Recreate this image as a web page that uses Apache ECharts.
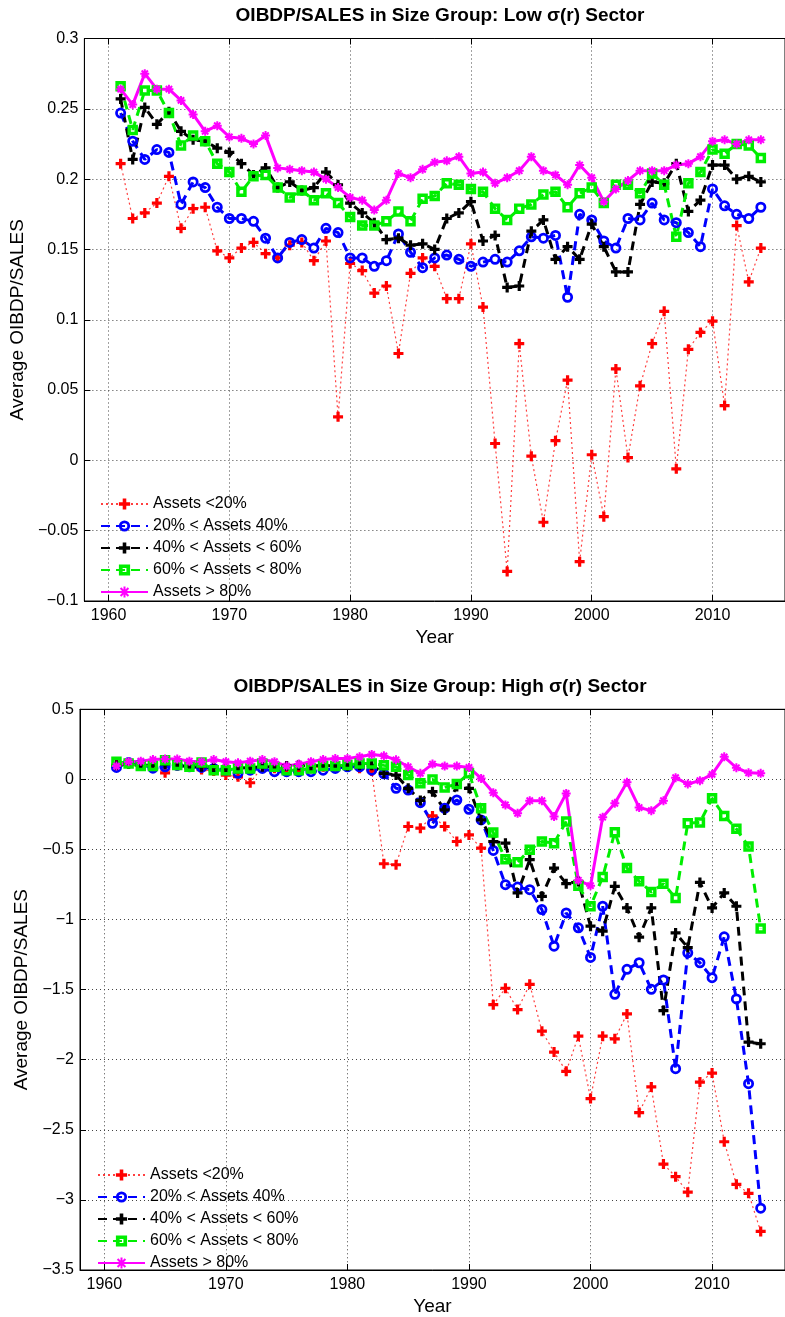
<!DOCTYPE html>
<html>
<head>
<meta charset="utf-8">
<script src="https://cdn.jsdelivr.net/npm/echarts@6/dist/echarts.min.js"></script>
<style>
html, body { margin: 0; padding: 0; background: #fff; }
#chart { width: 785px; height: 1317px; }
</style>
</head>
<body>
<div id="chart"></div>
<script>
var years = [1961, 1962, 1963, 1964, 1965, 1966, 1967, 1968, 1969, 1970,
	1971, 1972, 1973, 1974, 1975, 1976, 1977, 1978, 1979, 1980,
	1981, 1982, 1983, 1984, 1985, 1986, 1987, 1988, 1989, 1990,
	1991, 1992, 1993, 1994, 1995, 1996, 1997, 1998, 1999, 2000,
	2001, 2002, 2003, 2004, 2005, 2006, 2007, 2008, 2009, 2010,
	2011, 2012, 2013, 2014];

var xTicks = [1960, 1970, 1980, 1990, 2000, 2010];

var names = ['Assets <20%', '20% < Assets 40%', '40% < Assets < 60%', '60% < Assets < 80%', 'Assets > 80%'];

// low sigma(r) sector
var lowQ1 = [0.211, 0.172, 0.176, 0.183, 0.202, 0.165, 0.179, 0.180, 0.149, 0.144,
	0.151, 0.155, 0.147, 0.144, 0.153, 0.155, 0.142, 0.156, 0.031, 0.140,
	0.135, 0.119, 0.124, 0.076, 0.133, 0.144, 0.138, 0.115, 0.115, 0.154,
	0.109, 0.012, -0.079, 0.083, 0.003, -0.044, 0.014, 0.057, -0.072, 0.004,
	-0.040, 0.065, 0.002, 0.053, 0.083, 0.106, -0.006, 0.079, 0.091, 0.099,
	0.039, 0.167, 0.127, 0.151];
var lowQ2 = [0.247, 0.227, 0.214, 0.221, 0.219, 0.182, 0.198, 0.194, 0.180, 0.172,
	0.172, 0.170, 0.158, 0.144, 0.155, 0.157, 0.151, 0.165, 0.162, 0.144,
	0.144, 0.138, 0.142, 0.161, 0.148, 0.137, 0.144, 0.146, 0.143, 0.138,
	0.141, 0.143, 0.141, 0.149, 0.159, 0.158, 0.160, 0.116, 0.175, 0.171,
	0.156, 0.151, 0.172, 0.171, 0.183, 0.171, 0.169, 0.162, 0.152, 0.193,
	0.181, 0.175, 0.172, 0.180];
var lowQ3 = [0.257, 0.214, 0.251, 0.239, 0.248, 0.234, 0.228, 0.227, 0.222, 0.219,
	0.211, 0.203, 0.208, 0.194, 0.198, 0.192, 0.194, 0.205, 0.196, 0.183,
	0.176, 0.169, 0.157, 0.158, 0.153, 0.154, 0.150, 0.172, 0.176, 0.184,
	0.156, 0.160, 0.123, 0.124, 0.163, 0.171, 0.143, 0.152, 0.143, 0.168,
	0.152, 0.134, 0.134, 0.182, 0.198, 0.197, 0.211, 0.177, 0.185, 0.210,
	0.210, 0.200, 0.202, 0.198];
var lowQ4 = [0.266, 0.235, 0.263, 0.263, 0.247, 0.224, 0.231, 0.227, 0.211, 0.205,
	0.191, 0.202, 0.203, 0.194, 0.187, 0.192, 0.185, 0.190, 0.183, 0.173,
	0.167, 0.167, 0.170, 0.177, 0.170, 0.186, 0.188, 0.197, 0.196, 0.193,
	0.191, 0.179, 0.171, 0.179, 0.182, 0.189, 0.191, 0.180, 0.190, 0.194,
	0.183, 0.196, 0.196, 0.190, 0.204, 0.196, 0.159, 0.197, 0.205, 0.221,
	0.218, 0.225, 0.224, 0.215];
var lowQ5 = [0.264, 0.253, 0.275, 0.264, 0.264, 0.256, 0.246, 0.234, 0.238, 0.230,
	0.229, 0.225, 0.231, 0.208, 0.207, 0.206, 0.205, 0.200, 0.194, 0.187,
	0.185, 0.178, 0.185, 0.204, 0.201, 0.207, 0.212, 0.213, 0.216, 0.204,
	0.205, 0.197, 0.201, 0.206, 0.216, 0.206, 0.203, 0.196, 0.210, 0.201,
	0.184, 0.193, 0.199, 0.206, 0.206, 0.206, 0.210, 0.211, 0.216, 0.227,
	0.228, 0.225, 0.228, 0.228];

// high sigma(r) sector
var highQ1 = [0.100, 0.110, 0.100, 0.100, 0.047, 0.100, 0.090, 0.070, 0.060, 0.031,
	0.019, -0.024, 0.090, 0.080, 0.070, 0.070, 0.080, 0.090, 0.090, 0.090,
	0.080, 0.060, -0.602, -0.609, -0.336, -0.348, -0.261, -0.336, -0.443, -0.396,
	-0.490, -1.607, -1.490, -1.642, -1.462, -1.796, -1.945, -2.083, -1.832, -2.277,
	-1.832, -1.851, -1.673, -2.377, -2.194, -2.744, -2.834, -2.945, -2.159, -2.095,
	-2.585, -2.889, -2.953, -3.225];
var highQ2 = [0.085, 0.120, 0.110, 0.080, 0.090, 0.100, 0.090, 0.085, 0.078, 0.066,
	0.043, 0.066, 0.078, 0.055, 0.055, 0.055, 0.055, 0.066, 0.078, 0.090,
	0.090, 0.066, 0.040, -0.064, -0.076, -0.166, -0.313, -0.206, -0.147, -0.213,
	-0.289, -0.507, -0.751, -0.768, -0.787, -0.929, -1.190, -0.953, -1.059, -1.270,
	-0.905, -1.533, -1.355, -1.308, -1.498, -1.431, -2.064, -1.237, -1.308, -1.415,
	-1.123, -1.566, -2.171, -3.059];
var highQ3 = [0.100, 0.110, 0.100, 0.100, 0.110, 0.100, 0.090, 0.090, 0.085, 0.078,
	0.080, 0.085, 0.090, 0.090, 0.095, 0.100, 0.095, 0.100, 0.095, 0.095,
	0.100, 0.100, 0.043, 0.031, -0.064, -0.150, -0.088, -0.218, -0.050, -0.064,
	-0.289, -0.443, -0.455, -0.810, -0.573, -0.834, -0.633, -0.744, -0.728, -1.047,
	-1.083, -0.763, -0.917, -1.126, -0.917, -1.649, -1.095, -1.200, -0.735, -0.917,
	-0.810, -0.905, -1.874, -1.886];
var highQ4 = [0.126, 0.114, 0.095, 0.095, 0.137, 0.102, 0.090, 0.121, 0.066, 0.066,
	0.078, 0.078, 0.114, 0.090, 0.066, 0.066, 0.078, 0.095, 0.095, 0.102,
	0.114, 0.114, 0.100, 0.090, 0.031, -0.028, 0.000, -0.057, -0.033, 0.043,
	-0.206, -0.379, -0.569, -0.592, -0.502, -0.443, -0.455, -0.300, -0.758, -0.905,
	-0.697, -0.377, -0.633, -0.727, -0.803, -0.744, -0.846, -0.313, -0.308, -0.135,
	-0.261, -0.353, -0.479, -1.064];
var highQ5 = [0.095, 0.126, 0.130, 0.142, 0.145, 0.145, 0.130, 0.126, 0.142, 0.126,
	0.118, 0.130, 0.142, 0.126, 0.095, 0.109, 0.126, 0.142, 0.149, 0.149,
	0.161, 0.178, 0.168, 0.140, 0.090, 0.043, 0.109, 0.095, 0.095, 0.085,
	0.007, -0.095, -0.182, -0.242, -0.152, -0.152, -0.265, -0.100, -0.720, -0.758,
	-0.270, -0.171, -0.021, -0.201, -0.223, -0.152, 0.012, -0.033, -0.009, 0.036,
	0.161, 0.083, 0.047, 0.043];

var FONT = '"Liberation Sans", Arial, Helvetica, sans-serif';
var PLUS = 'path://M3.4,0H6.6V3.4H10V6.6H6.6V10H3.4V6.6H0V3.4H3.4Z';
var STAR = 'path://M5,0L5,10M0,5L10,5M1.5,1.5L8.5,8.5M8.5,1.5L1.5,8.5';
// rings: outer shape clockwise, inner hole counter-clockwise
var RING = 'path://M5,0A5,5,0,1,1,5,10A5,5,0,1,1,5,0Z M5,2.5A2.5,2.5,0,1,0,5,7.5A2.5,2.5,0,1,0,5,2.5Z';
var BOX = 'path://M0,0H10V10H0Z M3.3,3.3V6.7H6.7V3.3Z';

var styles = [
	{ color: '#ff0000', line: { width: 1.2, type: [2, 3], opacity: 0.75 }, symbol: PLUS, size: 10, border: 0 },
	{ color: '#0000ff', line: { width: 3, type: [9, 6] }, symbol: RING, size: 11, border: 0 },
	{ color: '#000000', line: { width: 3, type: [9, 6] }, symbol: PLUS, size: 10, border: 0 },
	{ color: '#00ee00', line: { width: 3, type: [9, 6] }, symbol: BOX, size: 10.5, border: 0 },
	{ color: '#ff00ff', line: { width: 3, type: 'solid' }, symbol: STAR, size: 9, border: 2 }
];

function pairs(vals) {
	return years.map(function(y, i) { return [y, vals[i]]; });
}

function makeSeries(idx, sets) {
	return sets.map(function(vals, k) {
		var s = styles[k];
		return {
			name: names[k],
			type: 'line',
			xAxisIndex: idx * 2,
			yAxisIndex: idx,
			data: pairs(vals),
			symbol: s.symbol,
			symbolSize: s.size,
			showSymbol: true,
			animation: false,
			lineStyle: { color: s.color, width: s.line.width, type: s.line.type, opacity: s.line.opacity || 1 },
			itemStyle: { color: s.color, borderColor: s.color, borderWidth: s.border },
			emphasis: { disabled: true }
		};
	});
}

function yFmt(v) {
	var s = String(Math.round(v * 100) / 100);
	return s.replace('-', '\u2212');
}

function xAxisPair(gridIdx) {
	var line = { show: true, onZero: false, lineStyle: { color: '#000', width: 1 } };
	var tick = { show: true, inside: true, length: 6, customValues: xTicks, lineStyle: { color: '#000' } };
	var bottom = {
		type: 'value', gridIndex: gridIdx, min: 1958, max: 2016, position: 'bottom',
		name: 'Year', nameLocation: 'middle', nameGap: 27,
		nameTextStyle: { fontSize: 19, color: '#000', fontFamily: FONT },
		axisLine: line, axisTick: tick,
		axisLabel: {
			customValues: xTicks, fontSize: 16, color: '#000', fontFamily: FONT, margin: 7,
			formatter: function(v) { return String(v); }
		},
		splitLine: { show: true, lineStyle: { color: '#444', type: [1, 3], width: 1 } }
	};
	var top = {
		type: 'value', gridIndex: gridIdx, min: 1958, max: 2016, position: 'top',
		axisLine: line, axisTick: tick,
		axisLabel: { show: false },
		splitLine: { show: false }
	};
	return [bottom, top];
}

function yAxis(gridIdx, min, max, step, gap) {
	return {
		type: 'value', gridIndex: gridIdx, min: min, max: max, interval: step,
		name: 'Average OIBDP/SALES', nameLocation: 'middle', nameGap: gap,
		nameTextStyle: { fontSize: 19, color: '#000', fontFamily: FONT },
		axisLine: { show: true, onZero: false, lineStyle: { color: '#000', width: 1 } },
		axisTick: { show: true, inside: true, length: 6, lineStyle: { color: '#000' } },
		axisLabel: { formatter: yFmt, fontSize: 16, color: '#000', fontFamily: FONT, margin: 6 },
		splitLine: { show: true, lineStyle: { color: '#444', type: [1, 3], width: 1 } }
	};
}

function legend(top, left) {
	return {
		data: names, orient: 'vertical', top: top, left: left, padding: 0,
		itemWidth: 47, itemHeight: 14, itemGap: 6,
		selectedMode: false,
		textStyle: { fontSize: 16, color: '#000', fontFamily: FONT }
	};
}

function title(text, top) {
	return {
		text: text, left: 440, top: top, textAlign: 'center', padding: 0,
		textStyle: { fontSize: 19, fontWeight: 'bold', color: '#000', fontFamily: FONT }
	};
}

var chart = echarts.init(document.getElementById('chart'), null, { renderer: 'canvas' });

var option = {
	backgroundColor: '#fff',
	animation: false,
	title: [
		title('OIBDP/SALES in Size Group: Low \u03c3(r) Sector', 6),
		title('OIBDP/SALES in Size Group: High \u03c3(r) Sector', 677)
	],
	legend: [legend(496, 100), legend(1167, 97)],
	grid: [
		{ left: 83, top: 38.5, width: 715, height: 562.5, show: true, borderColor: '#000', borderWidth: 1, containLabel: false },
		{ left: 80, top: 709.3, width: 713, height: 563, show: true, borderColor: '#000', borderWidth: 1, containLabel: false }
	],
	xAxis: xAxisPair(0).concat(xAxisPair(1)),
	yAxis: [yAxis(0, -0.1, 0.3, 0.05, 53), yAxis(1, -3.5, 0.5, 0.5, 46)],
	series: makeSeries(0, [lowQ1, lowQ2, lowQ3, lowQ4, lowQ5])
		.concat(makeSeries(1, [highQ1, highQ2, highQ3, highQ4, highQ5]))
};

chart.setOption(option);
</script>
</body>
</html>
